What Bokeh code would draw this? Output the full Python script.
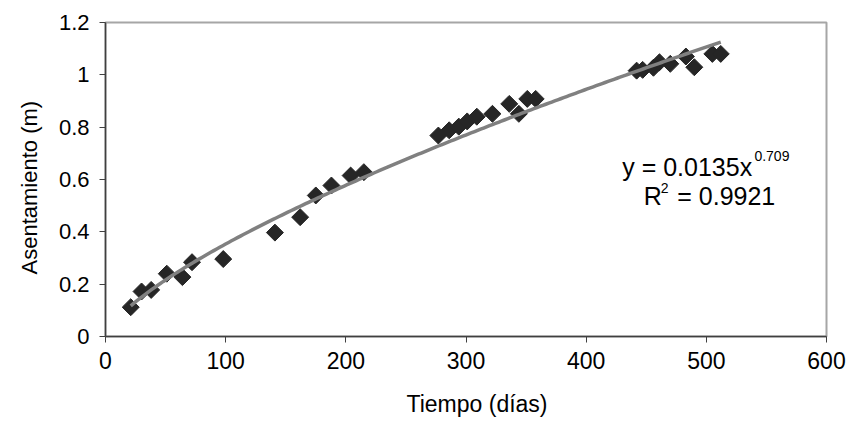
import numpy as np
from bokeh.plotting import figure
from bokeh.models import ColumnDataSource, FixedTicker, CustomJSTickFormatter, Label, Title
from bokeh.embed import file_html
from bokeh.resources import INLINE

# --- data ---
tiempo_dias = [21, 30, 38, 51, 64, 72, 98,
               141, 162, 175, 188, 204, 215,
               277, 286, 294, 301, 309, 322, 336, 344, 351, 358,
               442, 447, 456, 461, 470, 483, 490, 505, 512]
asentamiento_m = [0.112, 0.172, 0.178, 0.240, 0.227, 0.284, 0.296,
                  0.397, 0.456, 0.539, 0.577, 0.615, 0.628,
                  0.768, 0.788, 0.802, 0.822, 0.840, 0.851, 0.889, 0.851, 0.908, 0.908,
                  1.016, 1.019, 1.027, 1.048, 1.042, 1.070, 1.029, 1.080, 1.080]

# power trendline shown on the chart: y = a * x^b
trend_a = 0.0135
trend_b = 0.709
x_ticks = [0, 100, 200, 300, 400, 500, 600]
y_ticks = [0, 0.2, 0.4, 0.6, 0.8, 1.0, 1.2]
x_title = "Tiempo (días)"
y_title = "Asentamiento (m)"

FONT = "Liberation Sans"

p = figure(width=855, height=437, x_range=(0, 600), y_range=(0, 1.2),
           output_backend="svg", toolbar_location=None,
           min_border_left=105, min_border_right=29,
           min_border_top=22, min_border_bottom=101)

p.xgrid.visible = False
p.ygrid.visible = False
p.background_fill_color = "white"
p.border_fill_color = "white"
p.outline_line_color = "#a6a6a6"
p.outline_line_width = 2

for ax in (p.xaxis, p.yaxis):
    ax.axis_line_color = "#404040"
    ax.axis_line_width = 1.5
    ax.major_tick_line_color = "#404040"
    ax.major_tick_out = 6
    ax.major_tick_in = 0
    ax.minor_tick_line_color = None
    ax.major_label_text_font = FONT
    ax.major_label_text_color = "black"

p.xaxis.major_label_text_font_size = "23px"
p.yaxis.major_label_text_font_size = "22px"
p.xaxis.ticker = FixedTicker(ticks=x_ticks)
p.yaxis.ticker = FixedTicker(ticks=y_ticks)
p.yaxis.formatter = CustomJSTickFormatter(code="return (Math.round(tick*10)/10).toString();")
p.xaxis.major_label_standoff = 9
p.yaxis.major_label_standoff = 10

# axis titles as Title annotations so they can be offset
p.add_layout(Title(text=x_title, align="left", offset=301, standoff=35,
                   text_font=FONT, text_font_size="23px", text_font_style="normal",
                   text_color="black"), "below")
p.add_layout(Title(text=y_title, align="left", offset=62, standoff=28,
                   text_font=FONT, text_font_size="22px", text_font_style="normal",
                   text_color="black"), "left")

src = ColumnDataSource(dict(x=tiempo_dias, y=asentamiento_m))
p.scatter("x", "y", source=src, marker="square", angle=np.pi / 4, size=12,
          fill_color="#262626", line_color="#262626")

xt = np.linspace(min(tiempo_dias), max(tiempo_dias), 200)
yt = trend_a * xt ** trend_b
p.line(xt, yt, line_color="#808080", line_width=3.5)

# equation text
EQ = "25px"
SUP = "14px"
p.add_layout(Label(x=430.0, y=0.647, text="y = 0.0135x", text_font=FONT,
                   text_font_size=EQ, text_color="black", text_baseline="alphabetic"))
p.add_layout(Label(x=540.0, y=0.690, text="0.709", text_font=FONT,
                   text_font_size=SUP, text_color="black", text_baseline="alphabetic"))
p.add_layout(Label(x=448.0, y=0.536, text="R", text_font=FONT,
                   text_font_size=EQ, text_color="black", text_baseline="alphabetic"))
p.add_layout(Label(x=462.0, y=0.567, text="2", text_font=FONT,
                   text_font_size=SUP, text_color="black", text_baseline="alphabetic"))
p.add_layout(Label(x=475.8, y=0.536, text="= 0.9921", text_font=FONT,
                   text_font_size=EQ, text_color="black", text_baseline="alphabetic"))

open("out.html", "w").write(file_html(p, INLINE))
